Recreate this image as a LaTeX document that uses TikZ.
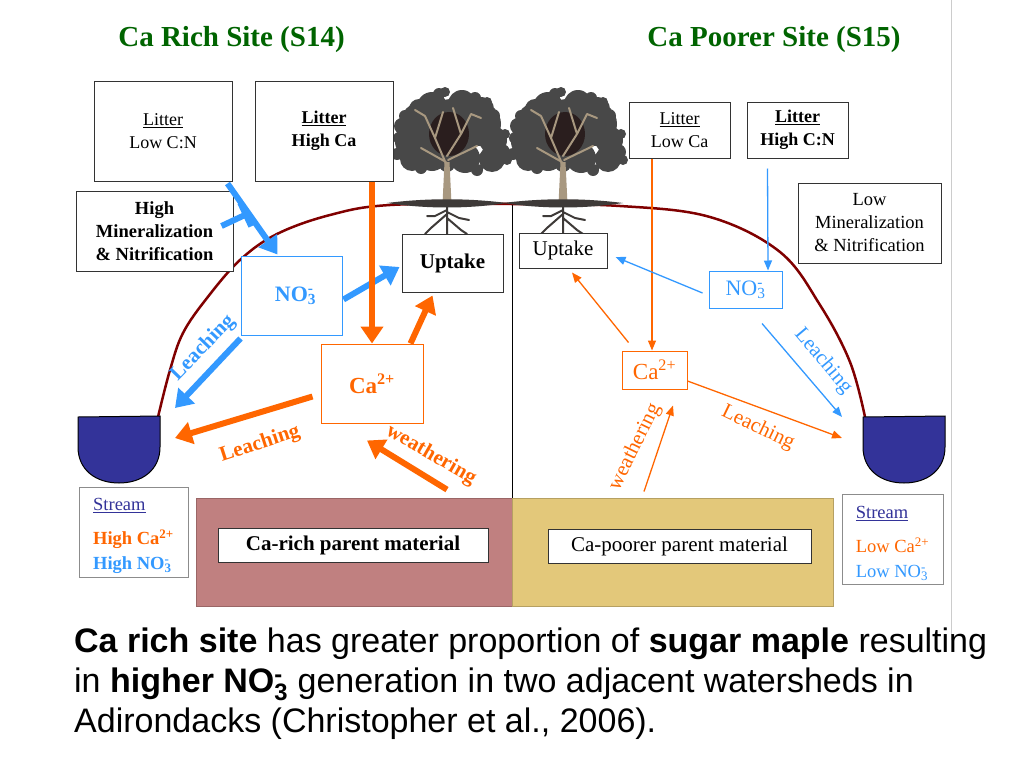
\documentclass[tikz,border=0pt]{standalone}
\usepackage{fontspec}
\setmainfont{Liberation Serif}
\newfontfamily\arialf{Liberation Sans}
\usetikzlibrary{arrows.meta,calc}
\definecolor{ttlgreen}{RGB}{0,100,0}
\definecolor{orng}{RGB}{255,102,0}
\definecolor{blu}{RGB}{51,153,255}
\definecolor{soil}{RGB}{128,0,0}
\definecolor{rosy}{RGB}{192,128,128}
\definecolor{gold}{RGB}{227,200,122}
\definecolor{strm}{RGB}{51,51,153}
\definecolor{crownc}{RGB}{72,72,72}
\definecolor{crowndk}{RGB}{42,30,30}
\definecolor{trunkc}{RGB}{168,152,128}
\definecolor{gnd}{RGB}{62,58,56}
\newcommand\fsz[2]{\fontsize{#1}{#2}\selectfont}
\newcommand\ionsub[2]{\makebox[0pt][l]{\textsuperscript{#2}}\textsubscript{#1}}
\tikzset{
  box/.style={draw=black!80, line width=1pt, fill=white, align=center, inner sep=0pt},
  bbox/.style={draw=blu, line width=1pt, fill=white, align=center, inner sep=0pt, text=blu},
  obox/.style={draw=orng, line width=1pt, fill=white, align=center, inner sep=0pt, text=orng},
  thickb/.style={draw=blu, line width=6pt, -{Triangle[length=17pt,width=22pt]}},
  thicko/.style={draw=orng, line width=6pt, -{Triangle[length=17pt,width=22pt]}},
  thinb/.style={draw=blu, line width=1.3pt, -{Triangle[length=10pt,width=8pt]}},
  thino/.style={draw=orng, line width=1.3pt, -{Triangle[length=10pt,width=8pt]}},
  lbl/.style={font=\fsz{21}{24}, inner sep=0pt},
  bowl/.style={fill=strm, draw=black, line width=1pt},
  bottxt/.style={font=\arialf\fsz{34}{40}, inner sep=0pt, anchor=base west},
  ttl/.style={font=\bfseries\fsz{29}{32}, text=ttlgreen},
  tree/.pic={
    \fill[crownc] (5,-75) circle (30) (-25,-80) circle (22) (32,-80) circle (22)
      (-38,-62) circle (14) (46,-64) circle (14) (-15,-97) circle (15) (15,-100) circle (14)
      (35,-95) circle (12) (-35,-45) circle (12) (45,-45) circle (13) (-15,-48) circle (15)
      (18,-46) circle (15) (-45,-78) circle (8) (55,-52) circle (8) (0,-40) circle (8)
      (-28,-95) circle (10)
      (-48,-66) circle (6) (-50,-50) circle (6) (-42,-88) circle (6) (-8,-110) circle (6)
      (28,-106) circle (6) (46,-88) circle (7) (58,-70) circle (5) (60,-44) circle (5)
      (-26,-36) circle (6) (30,-34) circle (6) (-2,-112) circle (5) (40,-102) circle (5);
    \fill[crowndk] (2,-70) ellipse (20pt and 22pt);
    \draw[trunkc, line width=2pt, line cap=round]
      (0,-38) -- (-12,-66) -- (-22,-88) (-12,-66) -- (-4,-92)
      (0,-48) -- (14,-70) -- (24,-90) (14,-70) -- (6,-96)
      (-1,-42) -- (-26,-56) (1,-44) -- (30,-58) (-22,-88) -- (-32,-94) (24,-90) -- (34,-86);
    \fill[trunkc] (-4.5,0) -- (-2.5,-42) -- (2.5,-42) -- (4.5,0) -- cycle;
    \fill[gnd] (-60,-1) .. controls (-20,-6) and (20,-6) .. (60,-1)
      .. controls (20,5) and (-20,5) .. (-60,-1) -- cycle;
    \draw[gnd, line width=2pt, line cap=round] (0,0) -- (0,30) (0,10) -- (-16,24) -- (-22,30)
      (0,14) -- (14,26) -- (20,30) (0,8) -- (12,14) -- (22,16) (0,6) -- (-12,12) -- (-20,12);
  }
}
\begin{document}
\begin{tikzpicture}[x=1pt,y=-1pt]
\useasboundingbox (0,0) rectangle (1024,768);
\fill[white] (0,0) rectangle (1024,768);
\draw[black!20, line width=1pt] (951,0) -- (951,640);

% titles
\node[ttl] (tA) at (231.5,40) {Ca Rich Site (S14)};
\node[ttl] (tB) at (774,40) {Ca Poorer Site (S15)};

% parent material
\node[draw=rosy!80!black, line width=0.8pt, fill=rosy, minimum width=316pt, minimum height=108pt, inner sep=0pt] (parA) at (354,552) {};
\node[draw=gold!80!black, line width=0.8pt, fill=gold, minimum width=321pt, minimum height=108pt, inner sep=0pt] (parB) at (672.5,552) {};
\node[box, minimum width=270pt, minimum height=34pt, font=\bfseries\fsz{21}{24}] (pmA) at (353,545) {Ca-rich parent material};
\node[box, minimum width=263pt, minimum height=34pt, font=\fsz{21}{24}] (pmB) at (679.5,546) {Ca-poorer parent material};

% ground curve and divider
\draw[soil, line width=2.5pt] plot[smooth, tension=0.6] coordinates {(158,417) (170,370) (183,333) (207,298) (240,260) (277,234) (330,215) (390,205) (512,204) (620,206) (710,217) (780,252) (820,305) (850,362) (865,417)};
\draw[black, line width=1pt] (512,205) -- (512,498);

% trees
\pic at (447,204) {tree};
\pic at (563,204) {tree};

% streams
\draw[bowl] (78,417) -- (160,416) -- (160,447) .. controls (160,470) and (142,483) .. (119,483) .. controls (96,483) and (78,470) .. (78,447) -- cycle;
\draw[bowl] (863,417) -- (945,416) -- (945,447) .. controls (945,470) and (927,483) .. (904,483) .. controls (881,483) and (863,470) .. (863,447) -- cycle;
\coordinate (sAn) at (175,408);
\coordinate (sAc) at (175,438);
\coordinate (sBn) at (842,417);
\coordinate (sBc) at (842,438);

% left boxes
\node[box, minimum width=138pt, minimum height=100pt, font=\fsz{18}{23}] (litA) at (163,131) {\underline{Litter}\\Low C:N};
\node[box, minimum width=138pt, minimum height=100pt, font=\bfseries\fsz{18}{23}] (litB) at (324,131) {\underline{Litter}\\High Ca};
\node[box, minimum width=157pt, minimum height=80pt, font=\bfseries\fsz{18.5}{23}] (minA) at (154.5,231) {High\\Mineralization\\\& Nitrification};
\node[bbox, minimum width=101pt, minimum height=79pt, font=\bfseries\fsz{22}{24}] (no3A) at (291.5,295.5) {\hspace{8pt}NO\ionsub{3}{-}};
\node[box, minimum width=101pt, minimum height=58pt, font=\bfseries\fsz{21}{24}] (upA) at (452.5,263) {Uptake};
\node[obox, minimum width=102pt, minimum height=79pt, font=\bfseries\fsz{23}{24}] (caA) at (372,383.5) {Ca\textsuperscript{2+}};
\node[box, draw=black!45, minimum width=109pt, minimum height=90pt, align=left, font=\bfseries\fsz{18.5}{25}] (legA) at (133.5,532) {{\mdseries\rule{0pt}{21pt}\textcolor{strm}{\underline{Stream}}}\\[9pt]\textcolor{orng}{High Ca\textsuperscript{2+}}\\\textcolor{blu}{High NO\ionsub{3}{-}}};

% right boxes
\node[box, minimum width=88pt, minimum height=35pt, font=\fsz{21}{24}] (upB) at (563,250.5) {Uptake};
\node[box, minimum width=101pt, minimum height=56pt, font=\fsz{18}{23}] (litC) at (679.5,130) {\underline{Litter}\\Low Ca};
\node[box, minimum width=101pt, minimum height=56pt, font=\bfseries\fsz{18}{23}] (litD) at (797.5,130) {\underline{Litter}\\High C:N};
\node[box, minimum width=143pt, minimum height=80pt, font=\fsz{18.5}{23}] (minB) at (869.5,223) {Low\\Mineralization\\\& Nitrification};
\node[bbox, minimum width=73pt, minimum height=37pt, font=\fsz{22}{24}] (no3B) at (745.5,289.5) {NO\ionsub{3}{-}};
\node[obox, minimum width=65pt, minimum height=38pt, font=\fsz{23}{24}] (caB) at (654.5,370) {Ca\textsuperscript{2+}};
\node[box, draw=black!45, minimum width=101pt, minimum height=90pt, align=left, font=\fsz{18.5}{25}] (legB) at (892.5,539) {\rule{0pt}{21pt}\textcolor{strm}{\underline{Stream}}\\[9pt]\textcolor{orng}{Low Ca\textsuperscript{2+}}\\\textcolor{blu}{Low NO\ionsub{3}{-}}};

% left arrows
\coordinate (a1) at ($(litA.south east)+(-5,2)$);
\coordinate (a2) at ($(no3A.north)+(-14,-1)$);
\draw[thickb] (a1) -- (a2);
\coordinate (barpt) at ($(a1)!0.42!(a2)$);
\draw[draw=blu, line width=6pt, -{Bar[width=26pt,length=6pt]}] ($(minA.east)+(-12,-5)$) -- (barpt);
\draw[thickb] ($(no3A.east)+(1,4)$) -- ($(upA.west)+(-2,4)$);
\draw[thickb] ($(no3A.south west)+(0,3)$) -- (sAn);
\draw[thicko] (litB.south -| caA.north) -- (caA.north);
\draw[thicko] ($(caA.north east)+(-13,0)$) -- ($(upA.south)+(-20,3)$);
\draw[thicko] ($(caA.west)+(-8,13)$) -- (sAc);
\draw[thicko] ($(parA.north)+(93,-8)$) -- ($(caA.south)+(-5,17)$);
\node[lbl, font=\bfseries\fsz{21}{24}, text=blu, rotate=46] (lA1) at (203,348) {Leaching};
\node[lbl, font=\bfseries\fsz{21}{24}, text=orng, rotate=18] (lA2) at (260,444) {Leaching};
\node[lbl, font=\bfseries\fsz{21}{24}, text=orng, rotate=-30] (lA3) at (431,455) {weathering};

% right arrows
\draw[thino] ($(litC.south)+(-27.5,0)$) -- ($(caB.north)+(-2.5,0)$);
\draw[thino] ($(caB.north west)+(7,-8)$) -- ($(upB.south)+(9,4)$);
\coordinate (b1) at ($(litD.south west)+(21,10)$);
\coordinate (b2) at ($(no3B.north)+(22.5,0)$);
\draw[thinb] (b1) -- (b2);
\draw[blu, line width=1.3pt] ($(minB.west)+(0,4)$) -- ($(minB.west)+(0,4)$ -| b1);
\draw[thinb] ($(no3B.west)+(-6,3.5)$) -- ($(upB.east)+(8,6.5)$);
\draw[thinb] ($(no3B.south)+(16.5,15)$) -- (sBn);
\draw[thino] ($(caB.east)+(0,11)$) -- (sBc);
\draw[thino] ($(caB.south)+(-10.5,102)$) -- ($(caB.south)+(18.5,16)$);
\node[lbl, text=blu, rotate=-50] (lB1) at (823,361) {Leaching};
\node[lbl, text=orng, rotate=-25.7] (lB2) at (758,428) {Leaching};
\node[lbl, text=orng, rotate=63.7] (lB3) at (635,447) {weathering};

% bottom text
\node[bottxt] (bt1) at (74,652) {\textbf{Ca rich site} has greater proportion of \textbf{sugar maple} resulting};
\node[bottxt] (bt2) at (74,692) {in \textbf{higher NO\ionsub{3}{-}} generation in two adjacent watersheds in};
\node[bottxt] (bt3) at (74,732) {Adirondacks (Christopher et al., 2006).};
\end{tikzpicture}
\end{document}
